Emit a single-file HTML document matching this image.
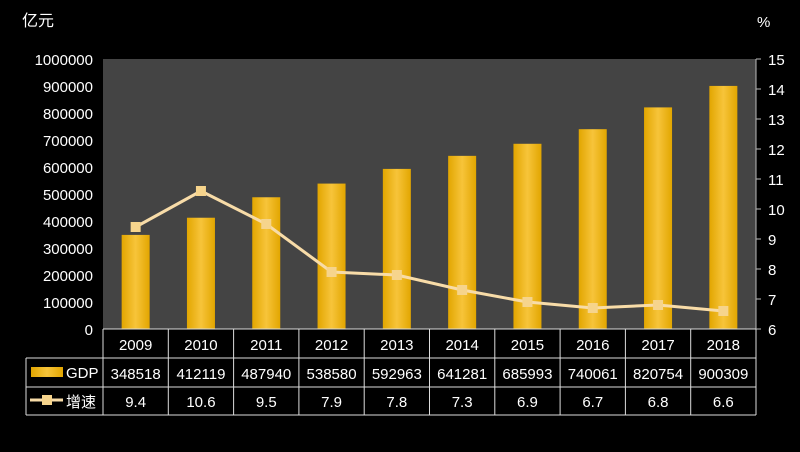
<!DOCTYPE html>
<html><head><meta charset="utf-8"><style>
body{margin:0;background:#000;width:800px;height:447px;overflow:hidden;font-family:"Liberation Sans","Noto Sans CJK SC",sans-serif}
svg text{fill:#fff;font-family:"Liberation Sans","Noto Sans CJK SC",sans-serif}
</style></head><body>
<svg id="c" width="800" height="447">
<defs><linearGradient id="g" x1="0" y1="0" x2="1" y2="0"><stop offset="0" stop-color="#e2a600"/><stop offset="0.5" stop-color="#f7c43a"/><stop offset="1" stop-color="#e2a600"/></linearGradient></defs>
</svg>
<script>
const years=["2009","2010","2011","2012","2013","2014","2015","2016","2017","2018"];
const gdp=[348518,412119,487940,538580,592963,641281,685993,740061,820754,900309];
const growth=[9.4,10.6,9.5,7.9,7.8,7.3,6.9,6.7,6.8,6.6];
const leftTicks=[0,100000,200000,300000,400000,500000,600000,700000,800000,900000,1000000];
const rightTicks=[6,7,8,9,10,11,12,13,14,15];
const svg=document.getElementById('c');const NS='http://www.w3.org/2000/svg';
function mk(t,a,p){const e=document.createElementNS(NS,t);for(const k in a)e.setAttribute(k,a[k]);(p||svg).appendChild(e);return e;}
const L=103,R=756,T=59,B=329,cw=(R-L)/years.length;
const yL=v=>B-(v/1000000)*(B-T);
const yR=v=>B-((v-6)/9)*(B-T);
const xC=i=>L+cw*(i+0.5);
let e=mk('rect',{x:L,y:T,width:R-L,height:B-T,fill:'#444'});


e=mk('text',{x:22,y:26,'font-size':16});e.textContent='亿元';


e=mk('text',{x:757,y:27,'font-size':15});e.textContent='%';


leftTicks.forEach(v=>{const t=mk('text',{x:93,y:yL(v)+6,'font-size':15,'text-anchor':'end'});t.textContent=v;

});
mk('line',{x1:R,y1:T,x2:R,y2:B,stroke:'#bbb'});
rightTicks.forEach(v=>{mk('line',{x1:R,y1:yR(v),x2:R+5,y2:yR(v),stroke:'#bbb'});const t=mk('text',{x:768,y:yR(v)+6,'font-size':15});t.textContent=v;

});
gdp.forEach((v,i)=>{const r=mk('rect',{x:xC(i)-14,y:yL(v),width:28,height:B-yL(v),fill:'url(#g)'});

});
const pl=mk('polyline',{points:growth.map((v,i)=>xC(i)+','+yR(v)).join(' '),fill:'none',stroke:'#f8dca8','stroke-width':3});


growth.forEach((v,i)=>{const r=mk('rect',{x:xC(i)-5,y:yR(v)-5,width:10,height:10,fill:'#f6d48c'});

});
// table
const r1=358,r2=387,r3=415,TL=26;
const st={stroke:'#ddd','stroke-width':1};
mk('line',{x1:L,y1:B,x2:R,y2:B,...st});
mk('line',{x1:TL,y1:r1,x2:R,y2:r1,...st});
mk('line',{x1:TL,y1:r2,x2:R,y2:r2,...st});
mk('line',{x1:TL,y1:r3,x2:R,y2:r3,...st});
mk('line',{x1:TL,y1:r1,x2:TL,y2:r3,...st});
for(let i=0;i<=years.length;i++)mk('line',{x1:L+cw*i,y1:B,x2:L+cw*i,y2:r3,...st});
years.forEach((y,i)=>{
let t=mk('text',{x:xC(i),y:350,'font-size':15,'text-anchor':'middle'});t.textContent=y;


t=mk('text',{x:xC(i),y:379,'font-size':15,'text-anchor':'middle'});t.textContent=gdp[i];


t=mk('text',{x:xC(i),y:407,'font-size':15,'text-anchor':'middle'});t.textContent=growth[i];

});
e=mk('rect',{x:31,y:367,width:32,height:10,fill:'url(#g)'});


e=mk('text',{x:66,y:378,'font-size':15});e.textContent='GDP';


mk('line',{x1:30,y1:400,x2:63,y2:400,stroke:'#f8dca8','stroke-width':3});
mk('rect',{x:42,y:395,width:10,height:10,fill:'#f6d48c'});
e=mk('text',{x:66,y:407,'font-size':15});e.textContent='增速';


</script>
</body></html>
